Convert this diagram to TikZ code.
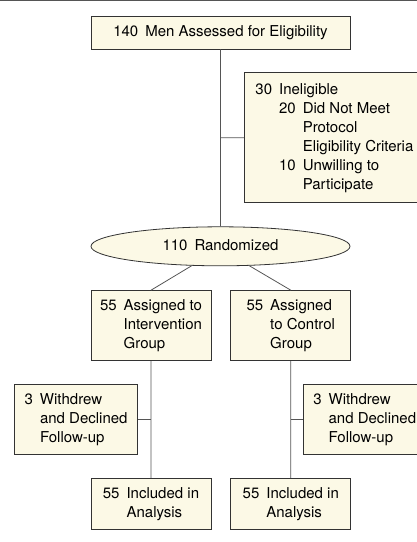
\documentclass[tikz,border=0pt]{standalone}
\usepackage{fontspec}
\setmainfont{TeX Gyre Heros}
\usetikzlibrary{positioning,shapes.geometric}

\definecolor{boxfill}{HTML}{FCF9E6}
\definecolor{boxline}{HTML}{333333}
\definecolor{linkgray}{HTML}{555555}

% number with hanging text lines
\newcommand{\hangitem}[2]{%
  \begin{tabular}[t]{@{}l@{\hspace{7pt}}l@{}}#1 & \begin{tabular}[t]{@{}l@{}}#2\end{tabular}\end{tabular}}

\begin{document}
\begin{tikzpicture}[x=1pt, y=-1pt]
    \tikzset{block/.style={
      draw=boxline,
      fill=boxfill,
      rectangle,
      line width=0.8pt,
      inner sep=0pt,
      font=\fontsize{15}{19}\selectfont
    },
    link/.style={draw=linkgray, line width=0.8pt}};

    \useasboundingbox (0,0) rectangle (417,542);
    \clip (0,0) rectangle (417,542);
    \draw[linkgray, line width=1pt] (0,0.5) -- (417,0.5);

    \node [block, minimum width=259pt, minimum height=33pt] (men) at (220.5,32.5)
      {\hangitem{140}{Men Assessed for Eligibility}};
    \node [block, minimum width=180pt, minimum height=130pt,
      below right=23pt and 23.5pt of men.south] (inelig)
      {\hangitem{30}{Ineligible\\
        \hangitem{20}{Did Not Meet\\Protocol\\Eligibility Criteria}\\
        \hangitem{10}{Unwilling to\\Participate}}};
    \node [block, ellipse, minimum width=259pt, minimum height=39pt,
      below=177pt of men] (rand) {\hangitem{110}{Randomized}};

    \node [block, minimum width=120pt, minimum height=70pt,
      below=24pt of rand.south, xshift=-69.5pt] (interv)
      {\hangitem{55}{Assigned to\\Intervention\\Group}};
    \node [block, minimum width=120pt, minimum height=70pt,
      right=19pt of interv] (control)
      {\hangitem{55}{Assigned\\to Control\\Group}};

    \node [block, minimum width=123pt, minimum height=70pt,
      below left=23pt and 13pt of interv.south] (wdleft)
      {\hangitem{3}{Withdrew\\and Declined\\Follow-up}};
    \node [block, minimum width=123pt, minimum height=70pt,
      below right=23pt and 12pt of control.south] (wdright)
      {\hangitem{3}{Withdrew\\and Declined\\Follow-up}};

    \node [block, minimum width=120pt, minimum height=51pt,
      below=117pt of interv] (inclleft)
      {\hangitem{55}{Included in\\Analysis}};
    \node [block, minimum width=120pt, minimum height=51pt,
      below=117pt of control] (inclright)
      {\hangitem{55}{Included in\\Analysis}};

    \path[link] (men) -- (rand)
      (men.south |- inelig.west) -- (inelig.west)
      (rand.214) -- (interv.north)
      (rand.326) -- (control.north)
      (interv) -- (inclleft)
      (control) -- (inclright)
      (wdleft.east) -- (wdleft.east -| interv.south)
      (wdright.west) -- (wdright.west -| control.south);
  \end{tikzpicture}
\end{document}
